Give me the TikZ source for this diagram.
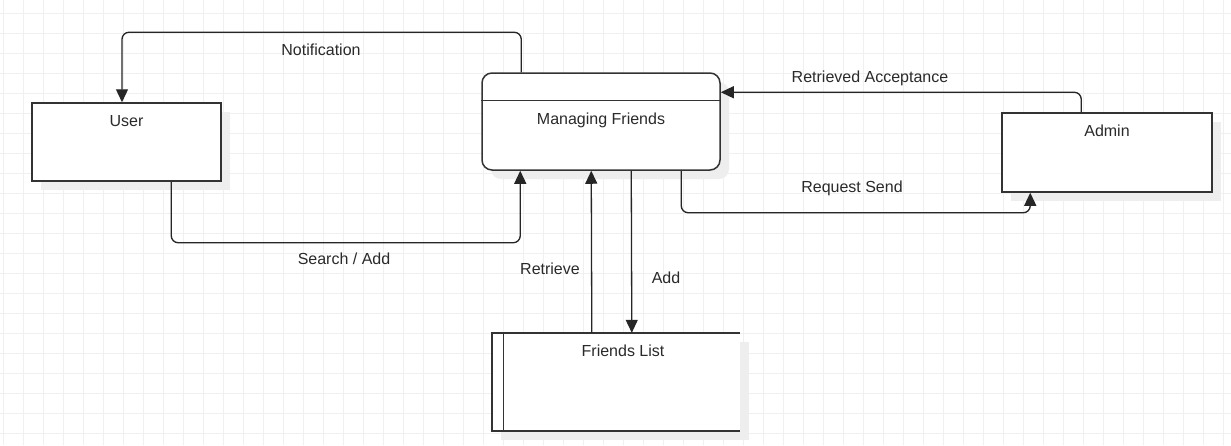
\documentclass[tikz,border=0pt]{standalone}
\usepackage{fontspec}
\setmainfont{Liberation Sans}
\usetikzlibrary{arrows.meta}
\definecolor{gridc}{HTML}{F0F0F0}
\definecolor{shadowc}{HTML}{EEEEEE}
\definecolor{linec}{HTML}{333333}
\definecolor{textc}{HTML}{2A2A2A}
\begin{document}
\begin{tikzpicture}[x=1pt,y=-1pt,
  box/.style={draw=linec,line width=1.5pt,fill=white,minimum width=#1,inner sep=0pt},
  txt/.style={text=textc,font=\fontsize{16}{19}\selectfont,inner sep=0pt,anchor=center},
  conn/.style={draw=black!85,line width=1.3pt,rounded corners=7pt,-{Triangle[length=13pt,width=12pt]}},
  shadowbox/.style={fill=shadowc,draw=none}]
\useasboundingbox (0,0) rectangle (1231,445);
\fill[white] (0,0) rectangle (1231,445);
% grid
\foreach \x in {3,23,...,1231} \draw[gridc,line width=0.8pt] (\x,0) -- (\x,445);
\foreach \y in {13,33,...,445} \draw[gridc,line width=0.8pt] (0,\y) -- (1231,\y);
% shadows
\fill[shadowbox] (41,112) rectangle (230,190);
\fill[shadowbox, rounded corners=10pt] (491,82) rectangle (729,179);
\fill[shadowbox] (1011,122) rectangle (1221,201);
\fill[shadowbox] (501,342) rectangle (749,440);
% User
\node[box=189pt,minimum height=78pt] (user) at (126.5,142) {};
\node[txt] (usert) at (126.5,121) {User};
% Managing Friends
\node[box=238pt,minimum height=97pt,rounded corners=10pt] (mf) at (601,121.5) {};
\draw[linec,line width=1.3pt] ([yshift=-28pt]mf.north west) -- ([yshift=-28pt]mf.north east);
\node[txt] (mft) at (601,120) {Managing Friends};
% Admin
\node[box=210pt,minimum height=79pt] (admin) at (1107,152.5) {};
\node[txt] (admint) at (1107,131) {Admin};
% Friends List (open data store)
\node[fill=white,minimum width=248pt,minimum height=98pt,inner sep=0pt] (fl) at (616,382) {};
\draw[linec,line width=1.5pt] (fl.north east) -- (fl.north west) -- (fl.south west) -- (fl.south east);
\draw[linec,line width=1.3pt] ([xshift=12pt]fl.north west) -- ([xshift=12pt]fl.south west);
\node[txt] (flt) at (623,351) {Friends List};
% connectors
\draw[conn] ([xshift=40pt]mf.north west) -- ++(0,-40) -| ([xshift=-4.5pt]user.north);
\draw[conn] ([xshift=140pt]user.south west) -- ++(0,61) -| ([xshift=39pt]mf.south west);
\draw[conn] ([xshift=100pt]fl.north west) -- ([xshift=110pt]mf.south west);
\draw[conn] ([xshift=150pt]mf.south west) -- ([xshift=140pt]fl.north west);
\draw[conn] ([xshift=200pt]mf.south west) -- ++(0,42) -| ([xshift=29pt]admin.south west);
\draw[conn] ([xshift=80pt]admin.north west) -- ++(0,-20) coordinate (ra) -- (ra -| mf.east);
% labels
\node[txt] (lnot) at (321,50) {Notification};
\node[txt] (lsa) at (344,259) {Search / Add};
\node[txt] (lret) at (550,269) {Retrieve};
\node[txt] (ladd) at (666,278) {Add};
\node[txt] (lrs) at (852,188) {Request Send};
\node[txt] (lra) at (870,78) {Retrieved Acceptance};
\end{tikzpicture}
\end{document}
